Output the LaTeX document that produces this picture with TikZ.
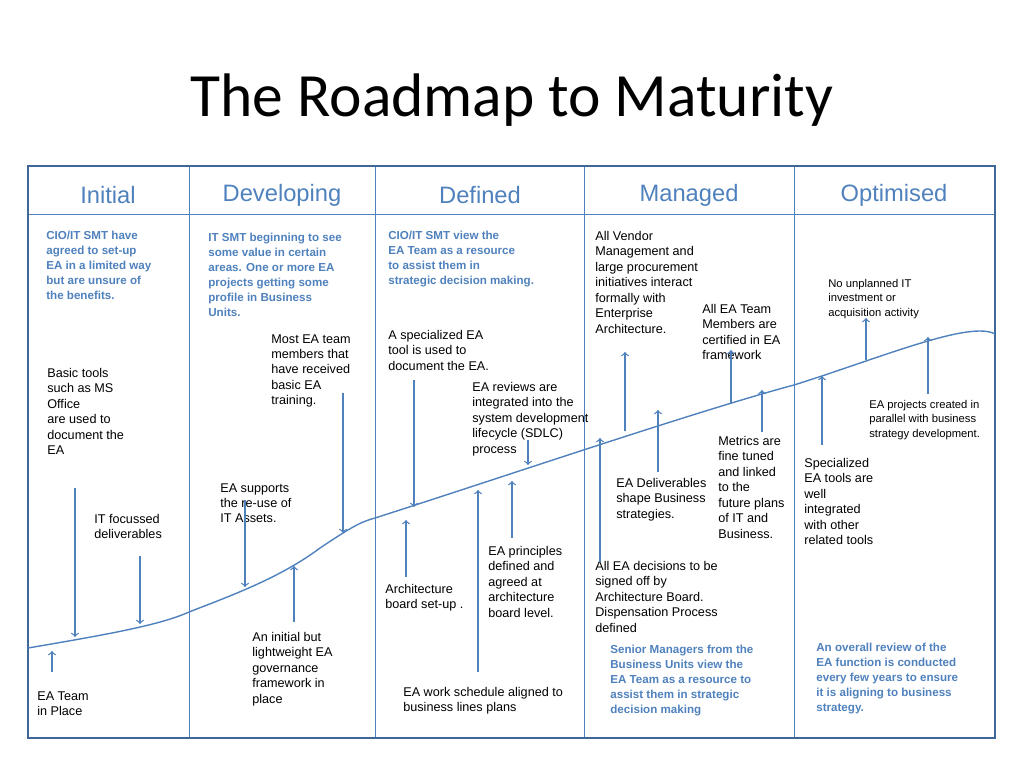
\documentclass[tikz,border=0pt]{standalone}
\usepackage{fontspec}
\setmainfont{Liberation Sans}
\newfontfamily\titlefont{Carlito}
\usetikzlibrary{arrows}
\definecolor{eablue}{RGB}{79,129,189}
\tikzset{
  x=0.02cm, y=-0.02cm,
  frame/.style={draw=eablue!80!black, line width=1.6pt},
  thin line/.style={draw=eablue, line width=0.5pt},
  phase/.style={font=\fontsize{13.5}{15}\selectfont, text=eablue},
  note/.style={anchor=north west, align=left, inner sep=0pt, font=\fontsize{7.2}{8.8}\selectfont},
  small note/.style={note, font=\fontsize{6.4}{8.2}\selectfont},
  key note/.style={note, text=eablue, font=\fontsize{6.6}{8.5}\selectfont\bfseries},
  arr/.style={->, >=to, draw=eablue, line width=0.7pt}
}
\begin{document}
\begin{tikzpicture}
\useasboundingbox (0,0) rectangle (1024,768);
\node (title) at (512,100) {\titlefont\fontsize{35}{40}\selectfont The Roadmap to Maturity};

% frame and columns
\draw[thin line] (28,214) -- (995,214);
\foreach \x in {189,375,584,794} \draw[thin line] (\x,166) -- (\x,738);
\draw[frame] (28,166) rectangle (995,738);

\node[phase] (initial) at (108,195) {Initial};
\node[phase] (developing) at (282,195) {Developing};
\node[phase] (defined) at (480,195) {Defined};
\node[phase] (managed) at (689,195) {Managed};
\node[phase] (optimised) at (894,195) {Optimised};

% maturity curve
\draw[eablue, line width=0.8pt] (28,648) .. controls (110,634) and (160,625) .. (189,612)
  .. controls (230,596) and (280,578) .. (320,548)
  .. controls (350,528) and (360,522) .. (375,518)
  .. controls (500,478) and (700,410) .. (794,385)
  .. controls (880,358) and (970,320) .. (995,334);

% blue statements
\node[key note] (s1) at (46,231) {CIO/IT SMT have\\agreed to set-up\\EA in a limited way\\but are unsure of\\the benefits.};
\node[key note] (s2) at (208,233) {IT SMT beginning to see\\some value in certain\\areas. One or more EA\\projects getting some\\profile in Business\\Units.};
\node[key note] (s3) at (388,231) {CIO/IT SMT view the\\EA Team as a resource\\to assist them in\\strategic decision making.};
\node[key note] (s4) at (610,645) {Senior Managers from the\\Business Units view the\\EA Team as a resource to\\assist them in strategic\\decision making};
\node[key note] (s5) at (816,643) {An overall review of the\\EA function is conducted\\every few years to ensure\\it is aligning to business\\strategy.};

% milestones
\node[note] (n1) at (37,691) {EA Team\\in Place};
\node[note] (n2) at (47,368) {Basic tools\\such as MS\\Office\\are used to\\document the\\EA};
\node[note] (n3) at (94,514) {IT focussed\\deliverables};
\node[note] (n4) at (220,483) {EA supports\\the re-use of\\IT Assets.};
\node[note] (n5) at (271,334) {Most EA team\\members that\\have received\\basic EA\\training.};
\node[note] (n6) at (252,632) {An initial but\\lightweight EA\\governance\\framework in\\place};
\node[note] (n7) at (388,330) {A specialized EA\\tool is used to\\document the EA.};
\node[note] (n8) at (472,382) {EA reviews are\\integrated into the\\system development\\lifecycle (SDLC)\\process};
\node[note] (n9) at (385,584) {Architecture\\board set-up .};
\node[note] (n10) at (488,546) {EA principles\\defined and\\agreed at\\architecture\\board level.};
\node[note] (n11) at (403,687) {EA work schedule aligned to\\business lines plans};
\node[note] (n12) at (595,231) {All Vendor\\Management and\\large procurement\\initiatives interact\\formally with\\Enterprise\\Architecture.};
\node[note] (n13) at (702,304) {All EA Team\\Members are\\certified in EA\\framework};
\node[note] (n14) at (616,478) {EA Deliverables\\shape Business\\strategies.};
\node[note] (n15) at (718,436) {Metrics are\\fine tuned\\and linked\\to the\\future plans\\of IT and\\Business.};
\node[note] (n16) at (595,561) {All EA decisions to be\\signed off by\\Architecture Board.\\Dispensation Process\\defined};
\node[small note] (n17) at (828,279) {No unplanned IT\\investment or\\acquisition activity};
\node[small note] (n18) at (869,400) {EA projects created in\\parallel with business\\strategy development.};
\node[note] (n19) at (804,458) {Specialized\\EA tools are\\well\\integrated\\with other\\related tools};

% arrows between notes and curve
\foreach \i/\x/\a/\b in {1/52/672/651, 2/75/488/637, 3/140/556/624, 4/245/500/587,
    5/343/393/533, 6/294/622/566, 7/414/380/507, 8/528/440/465, 9/406/577/520,
    10/512/538/481, 11/478/672/490, 12/625/431/352, 13/731/404/350, 14/658/472/410,
    15/762/432/390, 16/600/562/438, 17/866/360/318, 18/928/394/337, 19/822/445/376}
{
  \coordinate (from\i) at (\x,\a);
  \coordinate (to\i) at (\x,\b);
  \draw[arr] (from\i) -- (to\i);
}
\end{tikzpicture}
\end{document}
